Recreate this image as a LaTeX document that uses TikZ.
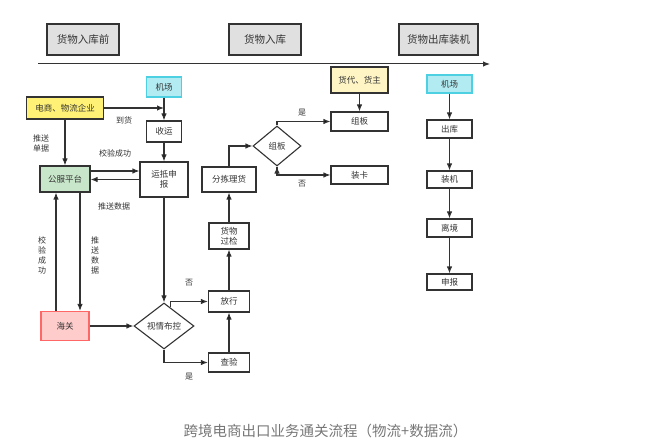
\documentclass[tikz,border=0pt]{standalone}
\usepackage{fontspec}
\setmainfont{Noto Sans CJK SC}
\usepackage{tikz}
\usetikzlibrary{positioning,shapes,arrows,arrows.meta,calc}

\definecolor{linec}{HTML}{333333}
\definecolor{headfill}{HTML}{E0E0E0}
\definecolor{yelfill}{HTML}{FFF176}
\definecolor{paleyel}{HTML}{FFF5C4}
\definecolor{cyanfill}{HTML}{B2EBF2}
\definecolor{cyandraw}{HTML}{4DD0E1}
\definecolor{greenfill}{HTML}{C8E6C9}
\definecolor{pinkfill}{HTML}{FFCCCC}
\definecolor{reddraw}{HTML}{FF6666}
\definecolor{capgray}{HTML}{777777}

\begin{document}
\begin{tikzpicture}[x=1pt,y=-1pt]
\tikzstyle{box}=[rectangle, draw=linec, line width=1.1pt, fill=white, inner sep=0pt, align=center, font=\fontsize{8.5}{10}\selectfont, text=linec]
\tikzstyle{head}=[box, fill=headfill, minimum width=72pt, minimum height=31pt, font=\fontsize{10.5}{12}\selectfont]
\tikzstyle{dia}=[diamond, draw=linec, line width=1.1pt, fill=white, inner sep=0pt, font=\fontsize{8.5}{10}\selectfont, text=linec]
\tikzstyle{lbl}=[align=center, inner sep=1pt, font=\fontsize{8}{10}\selectfont, text=linec]
\tikzstyle{connect}=[-{Latex[length=7pt,width=5.5pt]}, draw=linec, line width=1.1pt]
\useasboundingbox (0,0) rectangle (647,446);
	% stages
	\node[head] (hd1) at (83,39.5) {货物入库前};
	\node[head] (hd2) at (265,39.5) {货物入库};
	\node[head, minimum width=79pt] (hd3) at (438.5,39.5) {货物出库装机};
	\coordinate (t0) at (38,64);
	\coordinate (t1) at (490,64);
	\draw[connect, line width=1pt] (t0) -- (t1);

	% before warehousing
	\node[box, fill=yelfill, minimum width=77pt, minimum height=22pt] (qiye) at (65,108) {电商、物流企业};
	\node[box, fill=cyanfill, draw=cyandraw, minimum width=35pt, minimum height=20pt] (jc1) at (164,87) {机场};
	\node[box, minimum width=35pt, minimum height=21pt] (shouyun) at (164,131.5) {收运};
	\node[box, minimum width=48pt, minimum height=35pt] (yundi) at (164,179.5) {运抵申\\报};
	\node[box, fill=greenfill, minimum width=50pt, minimum height=26pt] (gongfu) at (65,179) {公服平台};
	\node[box, fill=pinkfill, draw=reddraw, minimum width=48pt, minimum height=29pt] (haiguan) at (65,326) {海关};
	\node[dia, minimum width=60pt, minimum height=46pt] (bukong) at (164,326) {视情布控};

	% warehousing
	\node[box, minimum width=41pt, minimum height=21pt] (fangxing) at (229,301.5) {放行};
	\node[box, minimum width=41pt, minimum height=19pt] (chayan) at (229,362.5) {查验};
	\node[box, minimum width=40pt, minimum height=26pt] (guojian) at (229,236) {货物\\过检};
	\node[box, minimum width=54pt, minimum height=25pt] (fenjian) at (229,179.5) {分拣理货};
	\node[dia, minimum width=48pt, minimum height=40pt] (zb) at (277,146) {组板};
	\node[box, fill=paleyel, minimum width=57pt, minimum height=26pt] (huodai) at (359.5,80) {货代、货主};
	\node[box, minimum width=57pt, minimum height=19pt] (zuban) at (359.5,121.5) {组板};
	\node[box, minimum width=57pt, minimum height=18pt] (zhuangka) at (359.5,175) {装卡};

	% loading
	\node[box, fill=cyanfill, draw=cyandraw, minimum width=45pt, minimum height=18pt] (jc2) at (449.5,84) {机场};
	\node[box, minimum width=45pt, minimum height=18pt] (chuku) at (449.5,129) {出库};
	\node[box, minimum width=45pt, minimum height=17pt] (zhuangji) at (449.5,179.5) {装机};
	\node[box, minimum width=45pt, minimum height=18pt] (lijing) at (449.5,228) {离境};
	\node[box, minimum width=45pt, minimum height=16pt] (shenbao) at (449.5,282) {申报};

	% labels
	\node[lbl] (l_daohuo) at (124,120) {到货};
	\node[lbl] (l_danju) at (41,143) {推送\\单据};
	\node[lbl] (l_chenggong) at (115,153) {校验成功};
	\node[lbl] (l_shuju) at (114,206) {推送数据};
	\node[lbl] (l_chenggong2) at (42,255) {校\\验\\成\\功};
	\node[lbl] (l_shuju2) at (95,255) {推\\送\\数\\据};
	\node[lbl] (l_fou1) at (189,283) {否};
	\node[lbl] (l_shi1) at (189,377) {是};
	\node[lbl] (l_shi2) at (302,113) {是};
	\node[lbl] (l_fou2) at (302,184) {否};

	\node[text=capgray, font=\fontsize{14.5}{16}\selectfont] (caption) at (325.5,431) {跨境电商出口业务通关流程（物流+数据流）};

	\path[connect]
		(qiye.east) edge [] (qiye.east -| shouyun)
		(jc1) edge [] (shouyun)
		(shouyun) edge [] (yundi)
		(qiye) edge [] (gongfu)
		([yshift=8pt]gongfu.east) edge [] ([yshift=8pt]gongfu.east -| yundi.west)
		(yundi.west) edge [] (yundi.west -| gongfu.east)
		([xshift=15pt]gongfu.south) edge [] ([xshift=15pt]gongfu.south |- haiguan.north)
		([xshift=-9pt]haiguan.north) edge [] ([xshift=-9pt]haiguan.north |- gongfu.south)
		(yundi) edge [] (bukong)
		(haiguan) edge [] (bukong)
		($(bukong.north)!0.2!(bukong.east)$) edge [to path={|- (\tikztotarget)}] (fangxing.west)
		(bukong.south) edge [to path={|- (\tikztotarget)}] (chayan.west)
		(chayan) edge [] (fangxing)
		(fangxing) edge [] (guojian)
		(guojian) edge [] (fenjian)
		(fenjian.north) edge [to path={|- (\tikztotarget)}] (zb.west)
		(zb.north) edge [to path={|- (\tikztotarget)}] (zuban.west)
		(zb.south) edge [to path={|- (\tikztotarget)}] (zhuangka.west)
		(huodai) edge [] (zuban)
		(jc2) edge [] (chuku)
		(chuku) edge [] (zhuangji)
		(zhuangji) edge [] (lijing)
		(lijing) edge [] (shenbao);
\end{tikzpicture}
\end{document}
